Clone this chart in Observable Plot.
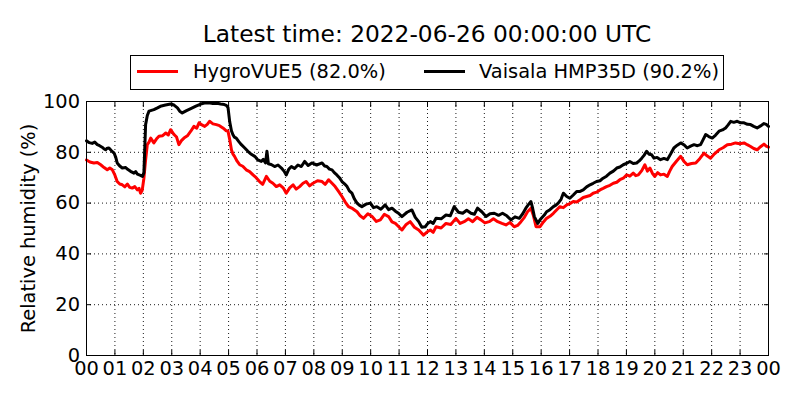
<!DOCTYPE html>
<html>
<head>
<meta charset="utf-8">
<script src="https://cdn.jsdelivr.net/npm/d3@7"></script>
<script src="https://cdn.jsdelivr.net/npm/@observablehq/plot@0.6"></script>
<style>
  html, body { margin: 0; padding: 0; background: white; }
  #wrap { position: relative; width: 800px; height: 400px; font-family: "DejaVu Sans", sans-serif; color: black; overflow: hidden; }
  #title { position: absolute; left: 86px; width: 682px; top: 22px; text-align: center; font-size: 23.3px; line-height: 1; white-space: nowrap; }
  #legend { position: absolute; left: 130px; top: 55px; width: 594px; height: 35px; border: 1px solid black; box-sizing: border-box; background: white; }
  .sw { position: absolute; top: 14px; width: 41px; height: 3px; }
  .lt { position: absolute; top: 6px; font-size: 19.4px; line-height: 1; white-space: nowrap; }
  #chart { position: absolute; left: 0; top: 95px; }
</style>
</head>
<body>
<div id="wrap">
  <div id="title"></div>
  <div id="legend"></div>
  <div id="chart"></div>
</div>
<script>
const titleText = "Latest time: 2022-06-26 00:00:00 UTC";
const seriesNames = ["HygroVUE5", "Vaisala HMP35D"];
const seriesColors = ["#ff0000", "#000000"];
const latestValues = [82.0, 90.2];
const yLabel = "Relative humidity (%)";

const xTicks = d3.range(0, 25);
const xTickLabels = ["00","01","02","03","04","05","06","07","08","09","10","11","12","13","14","15","16","17","18","19","20","21","22","23","00"];
const yTicks = [0, 20, 40, 60, 80, 100];

// HygroVUE5 (red): [hours since 00 UTC, relative humidity %]
const hygroReadings = [
  [0.0,77],[0.12,76.2],[0.26,75.8],[0.38,76],[0.5,75.1],[0.62,74],[0.73,73.1],[0.82,73.8],[0.91,73.1],[1.0,71],
  [1.08,68.5],[1.17,67.5],[1.26,67.2],[1.35,66.4],[1.44,67.5],[1.52,66.2],[1.61,65.9],[1.7,66.5],[1.79,65.2],[1.85,65.8],
  [1.9,63.9],[1.96,65],[2.02,69.8],[2.08,77],[2.14,83],[2.2,84],[2.26,85.6],[2.37,83.7],[2.46,85.2],[2.55,86.3],
  [2.67,86.5],[2.79,87.6],[2.88,86.8],[2.96,88.9],[3.08,87],[3.17,86],[3.25,83],[3.34,84.6],[3.43,85.6],[3.55,86.5],
  [3.67,88.3],[3.78,90.2],[3.88,89.5],[3.96,91.6],[4.06,90.8],[4.16,90.2],[4.25,91],[4.33,92.2],[4.45,91.2],[4.57,90.9],
  [4.68,90.5],[4.8,89.6],[4.9,88.6],[4.98,88.3],[5.04,85],[5.1,81],[5.15,79.4],[5.21,78.4],[5.3,76.5],[5.39,75.1],
  [5.5,74.5],[5.62,73.1],[5.74,72.4],[5.86,71.1],[5.97,70],[6.09,68.5],[6.2,67.4],[6.33,70.5],[6.45,68.6],[6.56,67.8],
  [6.68,66.5],[6.8,67.2],[6.92,66],[7.03,63.9],[7.15,66],[7.27,67.2],[7.38,65.5],[7.5,66.5],[7.62,67.8],[7.73,68.5],
  [7.85,66.8],[7.97,67.8],[8.13,68.8],[8.29,68.5],[8.4,67.4],[8.52,69.2],[8.64,67.8],[8.75,66.5],[8.87,64.6],[8.99,62.6],
  [9.1,60.5],[9.22,58.6],[9.37,57.8],[9.52,56.6],[9.63,55],[9.75,54],[9.9,55.8],[10.05,54.7],[10.2,52.8],[10.34,53.4],
  [10.48,55.6],[10.63,54.7],[10.75,52.6],[10.87,52],[10.98,50.8],[11.1,49.4],[11.25,51.6],[11.39,52.7],[11.54,50.5],[11.69,49.4],
  [11.86,47.4],[11.98,48.6],[12.1,49.4],[12.2,48.5],[12.3,50.7],[12.48,50.2],[12.65,52],[12.82,51.6],[13.0,54],[13.15,52],
  [13.29,52.7],[13.44,53.8],[13.59,52.7],[13.74,54.4],[13.88,53.4],[14.02,52.2],[14.17,52.7],[14.32,53.8],[14.47,52.7],[14.62,52],
  [14.76,51.4],[14.9,52.4],[15.05,50.7],[15.17,51.2],[15.29,52.7],[15.41,54.4],[15.52,56.6],[15.64,58],[15.73,55],[15.82,50.7],
  [15.96,50.7],[16.08,52.6],[16.19,54],[16.31,54.8],[16.43,56],[16.55,57.4],[16.66,58.6],[16.78,58.2],[16.9,59.3],[17.01,59.8],
  [17.13,60.6],[17.25,60.4],[17.37,61.3],[17.48,62.2],[17.6,62.6],[17.72,63],[17.83,63.9],[17.95,64.3],[18.07,65.2],[18.18,65.8],
  [18.3,66.5],[18.42,67],[18.54,67.8],[18.66,68.2],[18.77,69.2],[18.89,69.8],[19.01,71.1],[19.12,70.6],[19.24,71.8],[19.33,70.8],
  [19.42,71.1],[19.54,72.8],[19.65,75.1],[19.74,72.6],[19.83,73.8],[19.92,71.6],[20.0,70.5],[20.1,72],[20.2,71.1],[20.32,71.4],
  [20.44,70.5],[20.52,72.5],[20.61,74.4],[20.76,76.5],[20.91,78.4],[21.02,76.5],[21.14,75.1],[21.29,75.6],[21.44,75.8],[21.58,77.5],
  [21.73,79.7],[21.85,78.5],[21.96,77.7],[22.1,79.4],[22.26,81],[22.4,81.8],[22.55,83],[22.7,83.2],[22.84,83.7],[22.99,83.4],
  [23.14,83.7],[23.25,83],[23.37,82.3],[23.48,81.5],[23.6,81],[23.72,82.2],[23.84,83.2],[23.92,82.4],[24.0,82.0]
];

// Vaisala HMP35D (black): [hours since 00 UTC, relative humidity %]
const vaisalaReadings = [
  [0.0,84.5],[0.1,83.8],[0.2,83.5],[0.29,84],[0.38,83],[0.46,82.6],[0.55,82],[0.61,81.4],[0.67,81],[0.73,81.6],
  [0.79,81.7],[0.88,80.6],[0.97,79.7],[1.03,78],[1.08,75.8],[1.17,74.6],[1.26,73.8],[1.38,74],[1.46,73.2],[1.55,72.5],
  [1.67,71.8],[1.73,72.4],[1.79,71.4],[1.9,70.9],[1.97,70.5],[2.02,72],[2.08,90.9],[2.14,94.5],[2.2,96.2],[2.37,96.8],
  [2.48,97.4],[2.6,98.1],[2.78,98.6],[2.96,99],[3.08,98.6],[3.2,97.5],[3.28,96.2],[3.37,95.5],[3.52,96.4],[3.67,97.2],
  [3.85,98.2],[4.02,99],[4.15,99.4],[4.3,99.5],[4.45,99.2],[4.6,99.3],[4.72,99],[4.85,98.8],[4.92,98.5],[4.98,97.6],
  [5.04,92],[5.1,88.5],[5.15,87],[5.2,86],[5.27,85.6],[5.36,84.2],[5.45,83],[5.56,81.8],[5.68,80.4],[5.8,79.2],
  [5.92,78.4],[6.03,77],[6.15,76.4],[6.22,77.2],[6.3,75.8],[6.35,80.4],[6.4,75.5],[6.5,75.2],[6.62,74.4],[6.74,75],
  [6.86,73.8],[6.95,72.6],[7.03,71.1],[7.12,73.4],[7.21,74.4],[7.32,73.6],[7.44,75],[7.56,74.4],[7.68,76.4],[7.8,74.8],
  [7.93,75.8],[8.1,75],[8.29,75.8],[8.38,74.6],[8.46,74.4],[8.55,73.4],[8.64,73.1],[8.72,72],[8.81,71.1],[8.9,70],
  [8.99,68.5],[9.08,67.6],[9.17,66.5],[9.25,64.8],[9.34,63.9],[9.43,61.6],[9.52,60],[9.6,59.2],[9.69,58.6],[9.84,59.6],
  [9.99,60],[10.1,58.2],[10.22,58.6],[10.36,57.6],[10.51,59.3],[10.63,57.4],[10.75,58],[10.87,56.8],[10.98,56],[11.1,54.7],
  [11.28,56.4],[11.45,57.3],[11.57,54.4],[11.69,52.7],[11.8,50.5],[11.92,50.7],[12.01,52],[12.1,52.7],[12.2,52],[12.3,54],
  [12.48,53.8],[12.65,55.3],[12.8,55],[12.94,58.6],[13.09,56.4],[13.24,56],[13.38,57.2],[13.53,56],[13.65,55.6],[13.76,58],
  [13.91,56.6],[14.06,54.7],[14.2,55.8],[14.35,56],[14.5,55.2],[14.64,56],[14.79,55],[14.94,53.4],[15.08,54.6],[15.23,54],
  [15.35,55.8],[15.46,58],[15.55,59.4],[15.64,60.6],[15.7,58],[15.76,54.7],[15.88,52],[15.96,53.4],[16.11,55.3],[16.19,56.6],
  [16.31,57.4],[16.43,58.6],[16.52,59.2],[16.6,60],[16.7,61.5],[16.78,63.9],[16.9,62.6],[17.01,61.9],[17.13,63.2],[17.25,64.6],
  [17.37,64.6],[17.48,65.2],[17.6,66.4],[17.72,67.2],[17.83,67.8],[17.95,68.5],[18.07,68.8],[18.18,69.8],[18.3,70.6],[18.42,71.8],
  [18.54,72.6],[18.66,73.8],[18.77,74.2],[18.89,75.1],[19.0,75.6],[19.12,76.4],[19.24,75.6],[19.36,75.8],[19.45,76.6],[19.54,77.7],
  [19.62,78.8],[19.71,80.4],[19.8,79.2],[19.89,79],[19.97,77.7],[20.08,78],[20.2,77.1],[20.32,77.6],[20.44,77.1],[20.55,79.2],
  [20.67,81.7],[20.79,82.8],[20.91,83.7],[21.02,83],[21.14,81.7],[21.26,82.4],[21.38,83],[21.5,82.6],[21.61,83],[21.7,85],
  [21.79,87],[21.9,86.2],[22.02,85.6],[22.14,86.8],[22.26,88.3],[22.38,88.8],[22.49,89.6],[22.58,90.8],[22.67,92.2],[22.78,91.8],
  [22.9,92.2],[23.02,91.6],[23.14,91.6],[23.26,91],[23.37,90.9],[23.48,90.2],[23.6,89.6],[23.72,90.4],[23.84,91.3],[23.92,91],
  [24.0,90.2]
];

const hygro = hygroReadings.map(([h, v]) => ({h, v}));
const vaisala = vaisalaReadings.map(([h, v]) => ({h, v}));

// Title and legend (HTML above the SVG)
document.getElementById("title").textContent = titleText;
const legend = document.getElementById("legend");
const swLeft = [6, 293], txtLeft = [62, 348];
seriesNames.forEach((name, i) => {
  const sw = document.createElement("div");
  sw.className = "sw";
  sw.style.left = swLeft[i] + "px";
  sw.style.background = seriesColors[i];
  legend.appendChild(sw);
  const t = document.createElement("div");
  t.className = "lt";
  t.style.left = txtLeft[i] + "px";
  t.textContent = `${name} (${latestValues[i].toFixed(1)}%)`;
  legend.appendChild(t);
});

const gridStyle = {stroke: "black", strokeOpacity: 1, strokeWidth: 0.9, strokeDasharray: "1,3"};

const chart = Plot.plot({
  width: 800,
  height: 305,
  marginTop: 6,
  marginBottom: 45,
  marginLeft: 86,
  marginRight: 32,
  style: {fontFamily: "DejaVu Sans, sans-serif", fontSize: "19.4px", background: "white", color: "black", overflow: "visible"},
  x: {domain: [0, 24]},
  y: {domain: [0, 100]},
  marks: [
    Plot.gridX(xTicks, gridStyle),
    Plot.gridY(yTicks, gridStyle),
    Plot.line(hygro, {x: "h", y: "v", stroke: seriesColors[0], strokeWidth: 3, strokeLinejoin: "round"}),
    Plot.line(vaisala, {x: "h", y: "v", stroke: seriesColors[1], strokeWidth: 3, strokeLinejoin: "round"}),
    Plot.frame({stroke: "black", strokeWidth: 1}),
    Plot.axisX(xTicks, {anchor: "bottom", tickSize: -5, tickPadding: 11, tickFormat: d => xTickLabels[d], label: null, fontSize: "19.4px"}),
    Plot.axisX(xTicks, {anchor: "top", tickSize: -5, tickFormat: () => "", label: null}),
    Plot.axisY(yTicks, {anchor: "left", tickSize: -5, tickPadding: 11.5, tickFormat: d => String(d), label: yLabel, labelArrow: "none", labelAnchor: "center", labelOffset: 65, fontSize: "19.4px"}),
    Plot.axisY(yTicks, {anchor: "right", tickSize: -5, tickFormat: () => "", label: null})
  ]
});
document.getElementById("chart").appendChild(chart);
</script>
</body>
</html>
